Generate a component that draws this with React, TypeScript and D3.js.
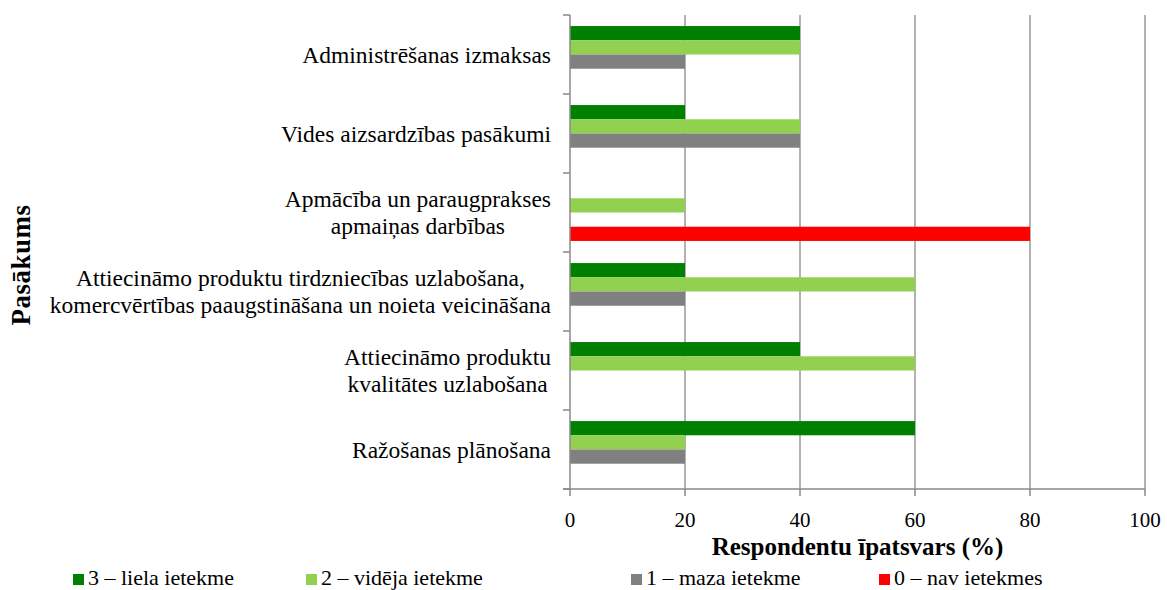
import React from "react";
import * as d3 from "d3";

const categories: string[][] = [
  ["Administrēšanas izmaksas"],
  ["Vides aizsardzības pasākumi"],
  ["Apmācība un paraugprakses", "apmaiņas darbības"],
  ["Attiecināmo produktu tirdzniecības uzlabošana,", "komercvērtības paaugstināšana un noieta veicināšana"],
  ["Attiecināmo produktu", "kvalitātes uzlabošana"],
  ["Ražošanas plānošana"],
];
const seriesNames = ["3 – liela ietekme", "2 – vidēja ietekme", "1 – maza ietekme", "0 – nav ietekmes"];
const seriesColors = ["#008000", "#92D050", "#808080", "#FF0000"];
const s3 = [40, 20, 0, 20, 40, 60];
const s2 = [40, 40, 20, 60, 60, 20];
const s1 = [20, 40, 0, 20, 0, 20];
const s0 = [0, 0, 80, 0, 0, 0];
const seriesValues = [s3, s2, s1, s0];
const xTicks = [0, 20, 40, 60, 80, 100];

const W = 1167, H = 590;
const left = 570, right = 1145, top = 15, bottom = 489;
const FONT = "'Liberation Serif', 'Times New Roman', serif";
const labelSize = 23.5;

function measure(text: string, size: number): number {
  if (typeof document === "undefined") return text.length * size * 0.45;
  const c = document.createElement("canvas");
  const ctx = c.getContext("2d")!;
  ctx.font = `${size}px 'Liberation Serif'`;
  return ctx.measureText(text).width;
}

export default function App() {
  const x = d3.scaleLinear().domain([0, 100]).range([left, right]);
  const idx = categories.map((_, i) => i);
  const y = d3.scaleBand<number>().domain(idx).range([top, bottom]).paddingInner(0.28).paddingOuter(0.14);
  const ys = d3.scaleBand<number>().domain([0, 1, 2, 3]).range([0, y.bandwidth()]);
  const bandStep = (bottom - top) / categories.length;
  const boundaries = d3.range(categories.length + 1).map((i) => top + i * bandStep);
  const labelRight = 551;
  const lineH = 27;
  const legendX = [73, 306, 631, 879];

  return (
    <svg width={W} height={H} style={{ position: "absolute", left: 0, top: 0, background: "#fff" }} fontFamily={FONT}>
      {/* gridlines */}
      {xTicks.slice(1).map((t) => (
        <line key={"g" + t} x1={x(t)} x2={x(t)} y1={top} y2={bottom} stroke="#999" strokeWidth={1.5} />
      ))}
      {/* bars */}
      {idx.map((ci) =>
        seriesValues.map((vals, si) =>
          vals[ci] > 0 ? (
            <rect
              key={ci + "-" + si}
              x={x(0)}
              y={(y(ci) as number) + (ys(si) as number)}
              width={x(vals[ci]) - x(0)}
              height={ys.bandwidth()}
              fill={seriesColors[si]}
            />
          ) : null
        )
      )}
      {/* axes */}
      <line x1={left} x2={left} y1={top} y2={bottom} stroke="#888" strokeWidth={1.5} />
      <line x1={563} x2={right} y1={bottom} y2={bottom} stroke="#888" strokeWidth={1.5} />
      {boundaries.map((b, i) => (
        <line key={"yt" + i} x1={563} x2={left} y1={b} y2={b} stroke="#888" strokeWidth={1.5} />
      ))}
      {xTicks.map((t) => (
        <line key={"xt" + t} x1={x(t)} x2={x(t)} y1={bottom} y2={bottom + 7} stroke="#888" strokeWidth={1.5} />
      ))}
      {xTicks.map((t) => (
        <text key={"xl" + t} x={x(t)} y={527} fontSize={21} textAnchor="middle" fill="#000">
          {t}
        </text>
      ))}
      {/* category labels */}
      {categories.map((lines, ci) => {
        const w = Math.max(...lines.map((l) => measure(l, labelSize)));
        const cx = labelRight - w / 2;
        const cy = (y(ci) as number) + y.bandwidth() / 2 + 2;
        const startY = cy - ((lines.length - 1) * lineH) / 2 + 6;
        return (
          <text key={"cl" + ci} fontSize={labelSize} textAnchor="middle" fill="#000">
            {lines.map((l, li) => (
              <tspan key={li} x={cx} y={startY + li * lineH}>
                {l}
              </tspan>
            ))}
          </text>
        );
      })}
      {/* axis titles */}
      <text x={(left + right) / 2} y={555} fontSize={25} fontWeight="bold" textAnchor="middle" fill="#000">
        Respondentu īpatsvars (%)
      </text>
      <text transform={`translate(30, 265) rotate(-90)`} fontSize={27} fontWeight="bold" letterSpacing={0.5} textAnchor="middle" fill="#000">
        Pasākums
      </text>
      {/* legend */}
      {seriesNames.map((n, i) => (
        <g key={"lg" + i}>
          <rect x={legendX[i]} y={574} width={11} height={11} fill={seriesColors[i]} />
          <text x={legendX[i] + 15} y={585} fontSize={22} fill="#000">
            {n}
          </text>
        </g>
      ))}
    </svg>
  );
}
